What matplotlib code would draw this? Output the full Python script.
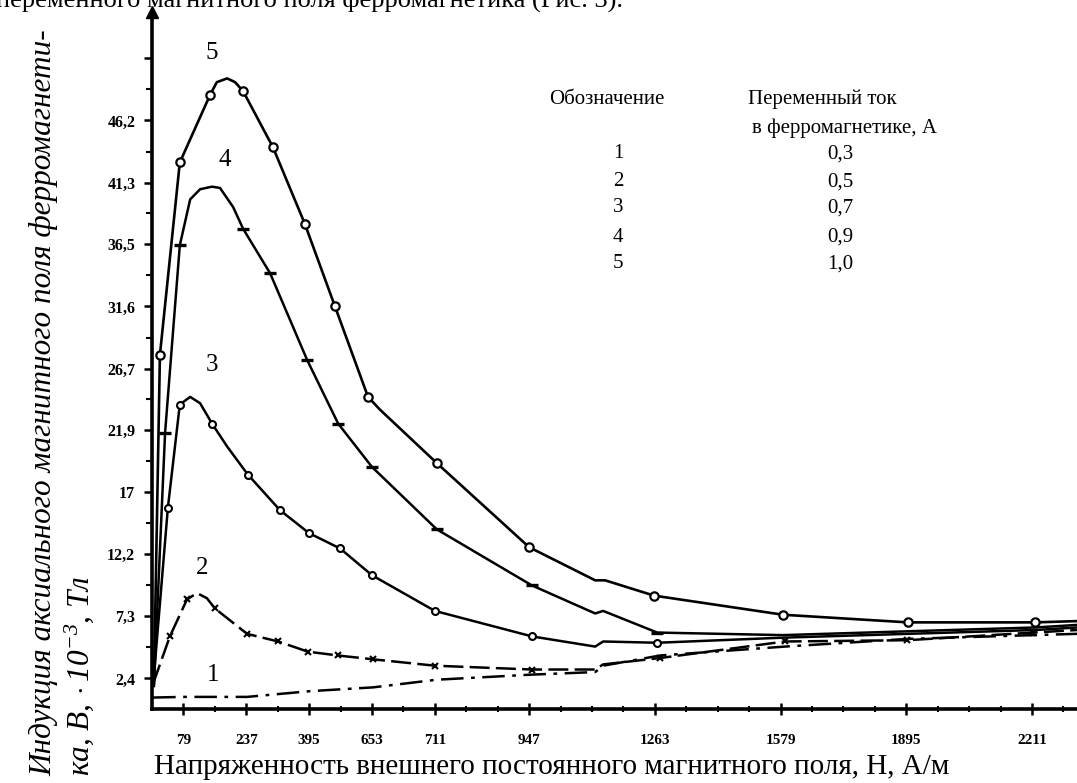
import numpy as np
import matplotlib
matplotlib.use("Agg")
import matplotlib.pyplot as plt

plt.rcParams['font.family'] = ['Liberation Serif', 'DejaVu Serif']
plt.rcParams['mathtext.fontset'] = 'custom'
plt.rcParams['mathtext.rm'] = 'Liberation Serif:italic'
plt.rcParams['mathtext.it'] = 'Liberation Serif:italic'

# Напряженность H, А/м (шкала: деление = 79 А/м)
x_ticks = [79, 237, 395, 553, 711, 948, 1264, 1580, 1896, 2212]
x_labels = ['79', '237', '395', '653', '711', '947', '1263', '1579', '1895', '2211']
y_ticks = [2.4, 7.3, 12.2, 17.0, 21.9, 26.7, 31.6, 36.5, 41.3, 46.2, 51.1]
y_labels = ['2,4', '7,3', '12,2', '17', '21,9', '26,7', '31,6', '36,5', '41,3', '46,2', '']

# кривая 1 (0,3 А)
H1 = [3, 78, 239, 397, 556, 716, 955, 1114, 1134, 1277, 1591, 1898, 2215, 2325]
B1 = [0.9, 0.95, 0.95, 1.4, 1.7, 2.3, 2.7, 2.9, 3.4, 4.2, 4.9, 5.5, 5.8, 5.9]
# кривая 2 (0,5 А)
H2 = [3, 45, 88, 113, 138, 158, 239, 317, 392, 468, 556, 711, 955, 1114, 1134, 1277, 1591, 1898, 2215, 2325]
B2 = [2.0, 5.7, 8.6, 9.1, 8.7, 7.9, 5.9, 5.3, 4.5, 4.2, 3.9, 3.4, 3.1, 3.1, 3.5, 4.0, 5.3, 5.4, 6.0, 6.2]
M2 = [1, 2, 5, 6, 7, 8, 9, 10, 11, 12, 15, 16, 17, 18]
# кривая 3 (0,7 А)
H3 = [3, 40, 70, 96, 121, 151, 189, 241, 322, 395, 473, 553, 711, 955, 1114, 1134, 1270, 1586, 1900, 2220, 2325]
B3 = [1.9, 15.8, 23.9, 24.5, 24.0, 22.4, 20.6, 18.4, 15.6, 13.8, 12.6, 10.5, 7.7, 5.7, 4.9, 5.3, 5.2, 5.6, 5.9, 6.2, 6.4]
M3 = [1, 2, 5, 7, 8, 9, 10, 11, 12, 13, 16]
# кривая 4 (0,9 А)
H4 = [5, 33, 70, 96, 121, 151, 171, 204, 229, 297, 390, 468, 553, 716, 955, 1114, 1134, 1270, 1586, 1900, 2220, 2325]
B4 = [1.8, 21.7, 36.4, 40.0, 40.8, 41.0, 40.9, 39.4, 37.7, 34.2, 27.4, 22.4, 19.0, 14.1, 9.7, 7.5, 7.7, 6.0, 5.8, 6.1, 6.4, 6.6]
M4 = [1, 2, 8, 9, 10, 11, 12, 13, 14, 17]
# кривая 5 (1,0 А)
H5 = [5, 20, 70, 146, 163, 189, 209, 229, 304, 384, 460, 543, 573, 716, 948, 1114, 1139, 1262, 1586, 1900, 2220, 2325]
B5 = [2.0, 27.8, 42.9, 48.2, 49.2, 49.5, 49.2, 48.5, 44.1, 38.1, 31.6, 24.5, 23.5, 19.3, 12.7, 10.1, 10.1, 8.9, 7.4, 6.8, 6.8, 6.9]
M5 = [1, 2, 3, 7, 8, 9, 10, 11, 13, 14, 17, 18, 19, 20]

curve_ids = ['1', '2', '3', '4', '5']
currents = ['0,3', '0,5', '0,7', '0,9', '1,0']

fig = plt.figure(figsize=(10.77, 7.83), dpi=100)
ax = fig.add_axes([0.1411, 0.0945, 0.8589, 0.890])

ax.plot(H1, B1, color='k', lw=1.8, linestyle=(0, (9, 3, 1.5, 3)))
ax.plot(H2, B2, color='k', lw=1.8, linestyle=(0, (8, 2.5)), marker='x', ms=5, mew=1.5, markevery=M2)
ax.plot(H3, B3, color='k', lw=1.8, marker='o', ms=5, mfc='white', mec='k', mew=1.5, markevery=M3)
ax.plot(H4, B4, color='k', lw=1.8, marker='_', ms=8, mew=2.4, markevery=M4)
ax.plot(H5, B5, color='k', lw=1.9, marker='o', ms=6, mfc='white', mec='k', mew=1.6, markevery=M5)

# номера кривых
ax.text(151, 51.5, '5', fontsize=18, ha='center', va='center')
ax.text(184, 43.1, '4', fontsize=18, ha='center', va='center')
ax.text(151, 27.0, '3', fontsize=18, ha='center', va='center')
ax.text(126, 11.1, '2', fontsize=18, ha='center', va='center')
ax.text(153, 2.7, '1', fontsize=18, ha='center', va='center')

ax.set_xlim(0, 2325)
ax.set_ylim(0, 54.7)
ax.set_xticks(x_ticks)
ax.set_xticklabels(x_labels, fontsize=11, fontweight='bold')
ax.set_xticks(np.arange(79, 2300, 79), minor=True)
ax.set_yticks(y_ticks)
ax.set_yticklabels(y_labels, fontsize=11.5, fontweight='bold')
ax.set_yticks([4.85, 9.75, 14.6, 19.45, 24.3, 29.15, 34.05, 38.9, 43.75, 48.65], minor=True)
ax.tick_params(axis='x', which='major', direction='inout', length=8, width=1.8, pad=14)
ax.tick_params(axis='x', which='minor', direction='inout', length=5, width=1.5)
ax.tick_params(axis='y', which='major', direction='out', length=6, width=1.8, pad=6)
ax.tick_params(axis='y', which='minor', direction='out', length=4, width=1.5)

for s in ['top', 'right']:
    ax.spines[s].set_visible(False)
ax.spines['left'].set_linewidth(2.6)
ax.spines['bottom'].set_linewidth(2.6)
ax.plot([0], [1], marker='^', ms=8, color='k', transform=ax.transAxes, clip_on=False)

# подписи осей
fig.text(552 / 1077, 1 - 767 / 783, 'Напряженность внешнего постоянного магнитного поля, Н, А/м',
         fontsize=21, ha='center', va='center')
fig.text(44 / 1077, 1 - 776 / 783, 'Индукция аксиального магнитного поля ферромагнети-',
         fontsize=22.5, style='italic', rotation=90, ha='center', va='bottom')
fig.text(79 / 1077, 1 - 776 / 783, r'ка, $B,\cdot10^{-3}$, Тл',
         fontsize=22.5, style='italic', rotation=90, ha='center', va='bottom')

# обрезанная строка текста сверху
fig.text(-0.004, 0.999, 'переменного магнитного поля ферромагнетика (Рис. 3).',
         fontsize=19, ha='left', va='center')

# таблица обозначений
fig.text(607 / 1077, 1 - 99 / 783, 'Обозначение', fontsize=15, ha='center', va='center')
fig.text(748 / 1077, 1 - 99 / 783, 'Переменный ток', fontsize=15, ha='left', va='center')
fig.text(752 / 1077, 1 - 128 / 783, 'в ферромагнетике, А', fontsize=15, ha='left', va='center')
rows_y = [154, 182, 208, 237, 264]
for cid, cur, ry in zip(curve_ids, currents, rows_y):
    fig.text(618 / 1077, 1 - ry / 783, cid, fontsize=15, ha='center', va='center')
    fig.text(840 / 1077, 1 - ry / 783, cur, fontsize=15, ha='center', va='center')

fig.savefig('out.png', dpi=100)
